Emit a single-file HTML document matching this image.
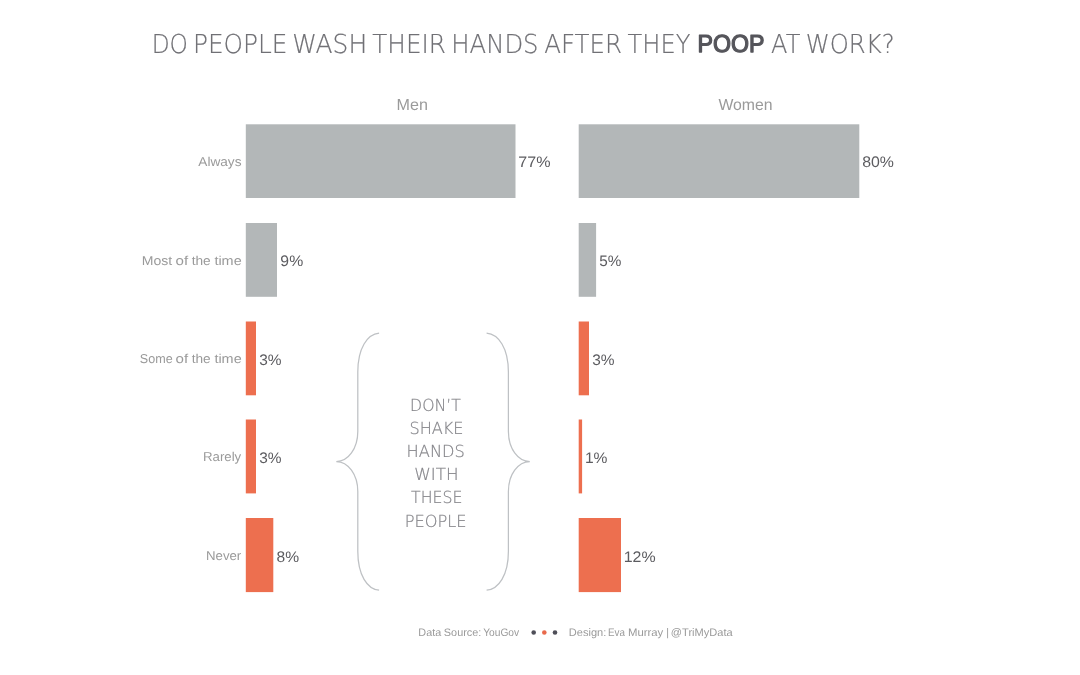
<!DOCTYPE html>
<html lang="en">
<head>
<meta charset="utf-8">
<title>Do people wash their hands after they poop at work?</title>
<style>
html,body{margin:0;padding:0;background:#fff;}
body{width:1080px;height:675px;overflow:hidden;font-family:"Liberation Sans",sans-serif;}
svg{display:block;position:absolute;left:0;top:0;}
text{font-family:"Liberation Sans",sans-serif;text-rendering:geometricPrecision;}
.fD{font-family:"DejaVu Sans Light","DejaVu Sans","Liberation Sans",sans-serif;font-weight:200;}
.title{fill:#707075;}
.title.fD{stroke:#707075;stroke-width:0.2px;}
.title.b{fill:#55555b;stroke:#55555b;stroke-width:1.25px;stroke-linejoin:round;}
.hdr{fill:#9a9a9a;}
.lab{fill:#9a9a9a;}
.val{fill:#5c5c60;}
.mid{fill:#999;}
.mid.fD{fill:#85858a;stroke:#85858a;stroke-width:0.2px;}
.foot{fill:#9a9a9a;}
.brace{fill:none;stroke:#bec1c4;stroke-width:1.25;}
</style>
</head>
<body>
<svg width="1080" height="675" viewBox="0 0 1080 675">
<rect width="1080" height="675" fill="#fff"/>
<rect x="245.8" y="124.3" width="269.7" height="73.7" fill="#b3b7b8"/>
<rect x="578.7" y="124.3" width="280.6" height="73.7" fill="#b3b7b8"/>
<rect x="245.8" y="223" width="31.2" height="73.8" fill="#b3b7b8"/>
<rect x="578.7" y="223" width="17.4" height="73.8" fill="#b3b7b8"/>
<rect x="245.8" y="321.5" width="10.2" height="73.8" fill="#ed6f4f"/>
<rect x="578.7" y="321.5" width="10.3" height="73.8" fill="#ed6f4f"/>
<rect x="245.8" y="419.5" width="10.2" height="73.9" fill="#ed6f4f"/>
<rect x="578.7" y="419.5" width="3.4" height="73.9" fill="#ed6f4f"/>
<rect x="245.8" y="518" width="27.5" height="74.1" fill="#ed6f4f"/>
<rect x="578.7" y="518" width="42.3" height="74.1" fill="#ed6f4f"/>
<text class="title fD" x="151.65" y="53" font-size="26.1" textLength="36.35" lengthAdjust="spacingAndGlyphs">DO</text>
<text class="title fD" x="192.99" y="53" font-size="26.1" textLength="94.52" lengthAdjust="spacingAndGlyphs">PEOPLE</text>
<text class="title fD" x="292.24" y="53" font-size="26.1" textLength="74.93" lengthAdjust="spacingAndGlyphs">WASH</text>
<text class="title fD" x="372.31" y="53" font-size="26.1" textLength="73.64" lengthAdjust="spacingAndGlyphs">THEIR</text>
<text class="title fD" x="451.34" y="53" font-size="26.1" textLength="87.21" lengthAdjust="spacingAndGlyphs">HANDS</text>
<text class="title fD" x="544.22" y="53" font-size="26.1" textLength="77.83" lengthAdjust="spacingAndGlyphs">AFTER</text>
<text class="title fD" x="627.62" y="53" font-size="26.1" textLength="62.79" lengthAdjust="spacingAndGlyphs">THEY</text>
<text class="title b" x="697.59" y="52" font-size="24.6" textLength="66.88" lengthAdjust="spacingAndGlyphs">POOP</text>
<text class="title fD" x="771.12" y="53" font-size="26.1" textLength="29.29" lengthAdjust="spacingAndGlyphs">AT</text>
<text class="title fD" x="805.68" y="53" font-size="26.1" textLength="88.91" lengthAdjust="spacingAndGlyphs">WORK?</text>
<text class="hdr" x="396.54" y="110" font-size="16" textLength="31.37" lengthAdjust="spacingAndGlyphs">Men</text>
<text class="hdr" x="718.4" y="110" font-size="16" textLength="54.19" lengthAdjust="spacingAndGlyphs">Women</text>
<text class="lab" x="198.3" y="166" font-size="12.9" textLength="43.23" lengthAdjust="spacingAndGlyphs">Always</text>
<text class="val" x="518.35" y="167" font-size="15.3" textLength="32.23" lengthAdjust="spacingAndGlyphs">77%</text>
<text class="val" x="862.2" y="167" font-size="15.3" textLength="31.77" lengthAdjust="spacingAndGlyphs">80%</text>
<text class="lab" x="141.7" y="265" font-size="12.9" textLength="30.45" lengthAdjust="spacingAndGlyphs">Most</text>
<text class="lab" x="175.63" y="265" font-size="12.9" textLength="12.62" lengthAdjust="spacingAndGlyphs">of</text>
<text class="lab" x="191.7" y="265" font-size="12.9" textLength="19.06" lengthAdjust="spacingAndGlyphs">the</text>
<text class="lab" x="214.4" y="265" font-size="12.9" textLength="27.29" lengthAdjust="spacingAndGlyphs">time</text>
<text class="val" x="280.36" y="266" font-size="15.3" textLength="22.81" lengthAdjust="spacingAndGlyphs">9%</text>
<text class="val" x="599.32" y="266" font-size="15.3" textLength="22.13" lengthAdjust="spacingAndGlyphs">5%</text>
<text class="lab" x="139.81" y="363" font-size="12.9" textLength="32.9" lengthAdjust="spacingAndGlyphs">Some</text>
<text class="lab" x="175.63" y="363" font-size="12.9" textLength="12.62" lengthAdjust="spacingAndGlyphs">of</text>
<text class="lab" x="191.7" y="363" font-size="12.9" textLength="19.06" lengthAdjust="spacingAndGlyphs">the</text>
<text class="lab" x="214.4" y="363" font-size="12.9" textLength="27.29" lengthAdjust="spacingAndGlyphs">time</text>
<text class="val" x="259.22" y="365" font-size="15.3" textLength="22.34" lengthAdjust="spacingAndGlyphs">3%</text>
<text class="val" x="592.22" y="365" font-size="15.3" textLength="22.34" lengthAdjust="spacingAndGlyphs">3%</text>
<text class="lab" x="202.97" y="461" font-size="12.9" textLength="38.23" lengthAdjust="spacingAndGlyphs">Rarely</text>
<text class="val" x="259.22" y="463" font-size="15.3" textLength="22.34" lengthAdjust="spacingAndGlyphs">3%</text>
<text class="val" x="584.93" y="463" font-size="15.3" textLength="22.54" lengthAdjust="spacingAndGlyphs">1%</text>
<text class="lab" x="205.97" y="560" font-size="12.9" textLength="35.3" lengthAdjust="spacingAndGlyphs">Never</text>
<text class="val" x="276.51" y="562" font-size="15.3" textLength="22.55" lengthAdjust="spacingAndGlyphs">8%</text>
<text class="val" x="623.7" y="562" font-size="15.3" textLength="31.87" lengthAdjust="spacingAndGlyphs">12%</text>
<text class="mid fD" x="410.08" y="411" font-size="16.6" textLength="50.79" lengthAdjust="spacingAndGlyphs">DON’T</text>
<text class="mid fD" x="409.44" y="434" font-size="16.6" textLength="54.02" lengthAdjust="spacingAndGlyphs">SHAKE</text>
<text class="mid fD" x="406.62" y="457" font-size="16.6" textLength="58.25" lengthAdjust="spacingAndGlyphs">HANDS</text>
<text class="mid fD" x="414.25" y="480" font-size="16.6" textLength="44.31" lengthAdjust="spacingAndGlyphs">WITH</text>
<text class="mid fD" x="411.05" y="503" font-size="16.6" textLength="51.38" lengthAdjust="spacingAndGlyphs">THESE</text>
<text class="mid fD" x="404.73" y="527" font-size="16.6" textLength="61.85" lengthAdjust="spacingAndGlyphs">PEOPLE</text>
<text class="foot" x="418.35" y="636" font-size="10.9" textLength="22.88" lengthAdjust="spacingAndGlyphs">Data</text>
<text class="foot" x="443.86" y="636" font-size="10.9" textLength="37.42" lengthAdjust="spacingAndGlyphs">Source:</text>
<text class="foot" x="483.14" y="636" font-size="10.9" textLength="36.06" lengthAdjust="spacingAndGlyphs">YouGov</text>
<text class="foot" x="568.84" y="636" font-size="10.9" textLength="37.46" lengthAdjust="spacingAndGlyphs">Design:</text>
<text class="foot" x="607.93" y="636" font-size="10.9" textLength="17.01" lengthAdjust="spacingAndGlyphs">Eva</text>
<text class="foot" x="627.91" y="636" font-size="10.9" textLength="35.39" lengthAdjust="spacingAndGlyphs">Murray</text>
<text class="foot" x="666.17" y="636" font-size="10.9" textLength="2.77" lengthAdjust="spacingAndGlyphs">|</text>
<text class="foot" x="670.83" y="636" font-size="10.9" textLength="61.89" lengthAdjust="spacingAndGlyphs">@TriMyData</text>
<path class="brace" d="M379.1 333.1 C367.38 334.1 357.8 348.1 357.8 372.1 L357.8 431.6 C357.8 448.6 348.12 461.6 336.3 461.6 C348.12 461.6 357.8 474.6 357.8 491.6 L357.8 551.2 C357.8 575.2 367.38 589.2 379.1 590.2"/>
<path class="brace" d="M486.6 333.1 C498.59 334.1 508.4 348.1 508.4 372.1 L508.4 431.6 C508.4 448.6 518.03 461.6 529.8 461.6 C518.03 461.6 508.4 474.6 508.4 491.6 L508.4 551.2 C508.4 575.2 498.59 589.2 486.6 590.2"/>
<circle cx="533.7" cy="632.5" r="2.3" fill="#4e4e58"/><circle cx="544.3" cy="632.5" r="2.3" fill="#e9694b"/><circle cx="555" cy="632.5" r="2.3" fill="#4e4e58"/>
</svg>
</body>
</html>
